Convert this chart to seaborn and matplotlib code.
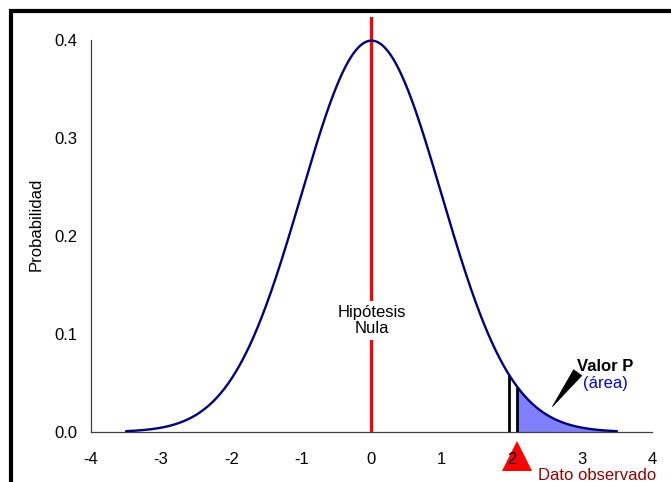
import numpy as np
import pandas as pd
import matplotlib
matplotlib.use("Agg")
import matplotlib.pyplot as plt
from matplotlib.patches import Rectangle
from matplotlib.transforms import blended_transform_factory
import seaborn as sns

# Null distribution: standard normal
mu = 0.0
sigma = 1.0
x_min, x_max = -3.5, 3.5
critical_value = 1.96
observed_value = 2.08

x_ticks = [-4, -3, -2, -1, 0, 1, 2, 3, 4]
y_ticks = [0.0, 0.1, 0.2, 0.3, 0.4]
y_tick_labels = ["0.0", "0.1", "0.2", "0.3", "0.4"]

x_label = ""
y_label = "Probabilidad"
null_label = "Hipótesis\nNula"
pvalue_title = "Valor P"
pvalue_sub = "(área)"
observed_label = "Dato observado"


def density(v):
    return np.exp(-0.5 * ((v - mu) / sigma) ** 2) / (sigma * np.sqrt(2 * np.pi))


xs = np.linspace(x_min, x_max, 401)
df = pd.DataFrame({"x": xs, "p": density(xs)})

sns.set_theme(style="white")
plt.rcParams["font.family"] = ["Liberation Sans", "DejaVu Sans"]

fig = plt.figure(figsize=(6.71, 4.82), dpi=100)
ax = fig.add_axes([0.1356, 0.1037, 0.8361, 0.862])

# shaded tail area (p-value)
tail = df[df["x"] >= observed_value]
ax.fill_between(tail["x"], 0, tail["p"], color="#8080FF", linewidth=0, zorder=2)

# density curve
sns.lineplot(data=df, x="x", y="p", ax=ax, color="#000080", linewidth=1.7, zorder=4)

# null hypothesis mean
ax.axvline(mu, ymin=0, ymax=1, color="#FF0000", linewidth=2.3, zorder=3)
ax.text(mu, 0.1136, null_label, ha="center", va="center", fontsize=12,
        linespacing=1.15, color="black", zorder=5,
        bbox=dict(facecolor="white", edgecolor="none", pad=2.5))

# critical and observed value markers
for v in (critical_value, observed_value):
    ax.plot([v, v], [0, density(v)], color="black", linewidth=2.0, zorder=3,
            solid_capstyle="butt")

# p-value callout
ax.annotate("", xy=(2.58, 0.0259), xytext=(2.94, 0.0605),
            arrowprops=dict(arrowstyle="wedge,tail_width=0.6,shrink_factor=0.5",
                            fc="black", ec="black", lw=0.5,
                            shrinkA=0, shrinkB=0), zorder=5)
ax.text(3.33, 0.0665, pvalue_title, ha="center", va="center", fontsize=12,
        fontweight="bold", color="black")
ax.text(3.33, 0.0490, pvalue_sub, ha="center", va="center", fontsize=12,
        color="#0000FF")

# axes styling
ax.set_xlim(-4, 4)
ax.set_ylim(0, 0.4235)
ax.set_xticks(x_ticks)
ax.set_xticklabels([str(t) for t in x_ticks])
ax.set_yticks(y_ticks)
ax.set_yticklabels(y_tick_labels)
ax.set_xlabel(x_label)
ax.set_ylabel(y_label, fontsize=12, labelpad=8, color="black")
for side in ("top", "right"):
    ax.spines[side].set_visible(False)
for side in ("left", "bottom"):
    ax.spines[side].set_color("#404040")
    ax.spines[side].set_linewidth(0.9)
ax.spines["left"].set_bounds(0, 0.4)
ax.spines["bottom"].set_bounds(-4, 4)
ax.tick_params(axis="both", direction="out", length=4.5, width=0.9,
               color="#404040", labelsize=12, labelcolor="black")
ax.tick_params(axis="y", pad=5)
ax.tick_params(axis="x", pad=10)
ax.set_facecolor("white")
ax.set_axisbelow(True)

# observed value triangle below the axis (behind the tick labels)
trans = blended_transform_factory(ax.transData, ax.transAxes)
ax.plot([observed_value], [-0.058], marker="^", markersize=21, color="#FF0000",
        markeredgewidth=0, transform=trans, clip_on=False, zorder=0.2)
ax.text(2.37, -0.104, observed_label, transform=trans, ha="left", va="center",
        fontsize=12, color="#990000", clip_on=False)

# outer frame
fig.patches.append(Rectangle((11 / 671, -0.1), 1.2, 1 - 11 / 482 + 0.1,
                             transform=fig.transFigure, fill=False,
                             edgecolor="black", linewidth=3.0, zorder=10))

fig.savefig("out.png", dpi=100, facecolor="white")
